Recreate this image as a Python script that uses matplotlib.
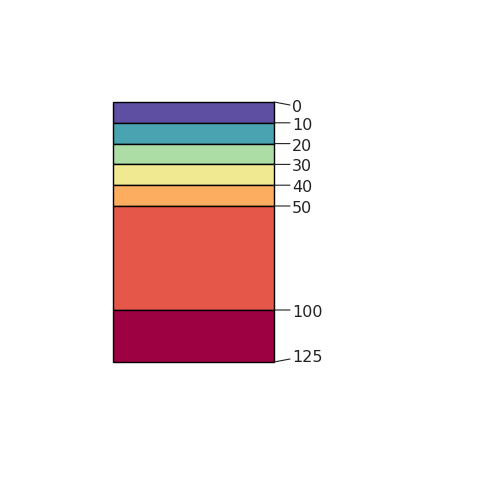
import numpy as np
from matplotlib import pyplot as plt
import matplotlib.transforms as mtransforms

boundaries = [0, 10, 20, 30, 40, 50, 100, 125]
colors = ["#5e4fa2", "#4aa3b0", "#abdda4", "#f1e991", "#fdad60", "#e45749", "#9e0142"]
labels = ["0", "10", "20", "30", "40", "50", "100", "125"]

fig = plt.figure(figsize=(4.8, 4.8), dpi=100)
ax = fig.add_axes([113 / 480, 118 / 480, 161 / 480, 260 / 480])

tops = np.array(boundaries[:-1])
heights = np.diff(boundaries)
bars = ax.bar(0.5, heights, width=1.0, bottom=tops, color=colors,
              edgecolor="black", linewidth=1.0)
for b in bars:
    b.set_clip_on(False)

ax.set_xlim(0, 1)
ax.set_ylim(boundaries[-1], boundaries[0])
ax.axis("off")

trans = mtransforms.blended_transform_factory(ax.transAxes, ax.transData)
for i, (b, lab) in enumerate(zip(boundaries, labels)):
    line_dy, text_dy = 0, -1
    if i == 0:
        line_dy, text_dy = -3, -4.5
    elif i == len(boundaries) - 1:
        line_dy, text_dy = 3, 5.5
    # leader line
    ax.annotate("", xy=(1, b), xycoords=trans, xytext=(16, line_dy),
                textcoords="offset pixels",
                arrowprops=dict(arrowstyle="-", color="#222222", lw=0.8,
                                shrinkA=0, shrinkB=0),
                annotation_clip=False)
    ax.annotate(lab, xy=(1, b), xycoords=trans, xytext=(18, text_dy),
                textcoords="offset pixels", ha="left", va="center_baseline",
                fontsize=11.5, color="#222222", annotation_clip=False)

fig.savefig("out.png", dpi=100)
